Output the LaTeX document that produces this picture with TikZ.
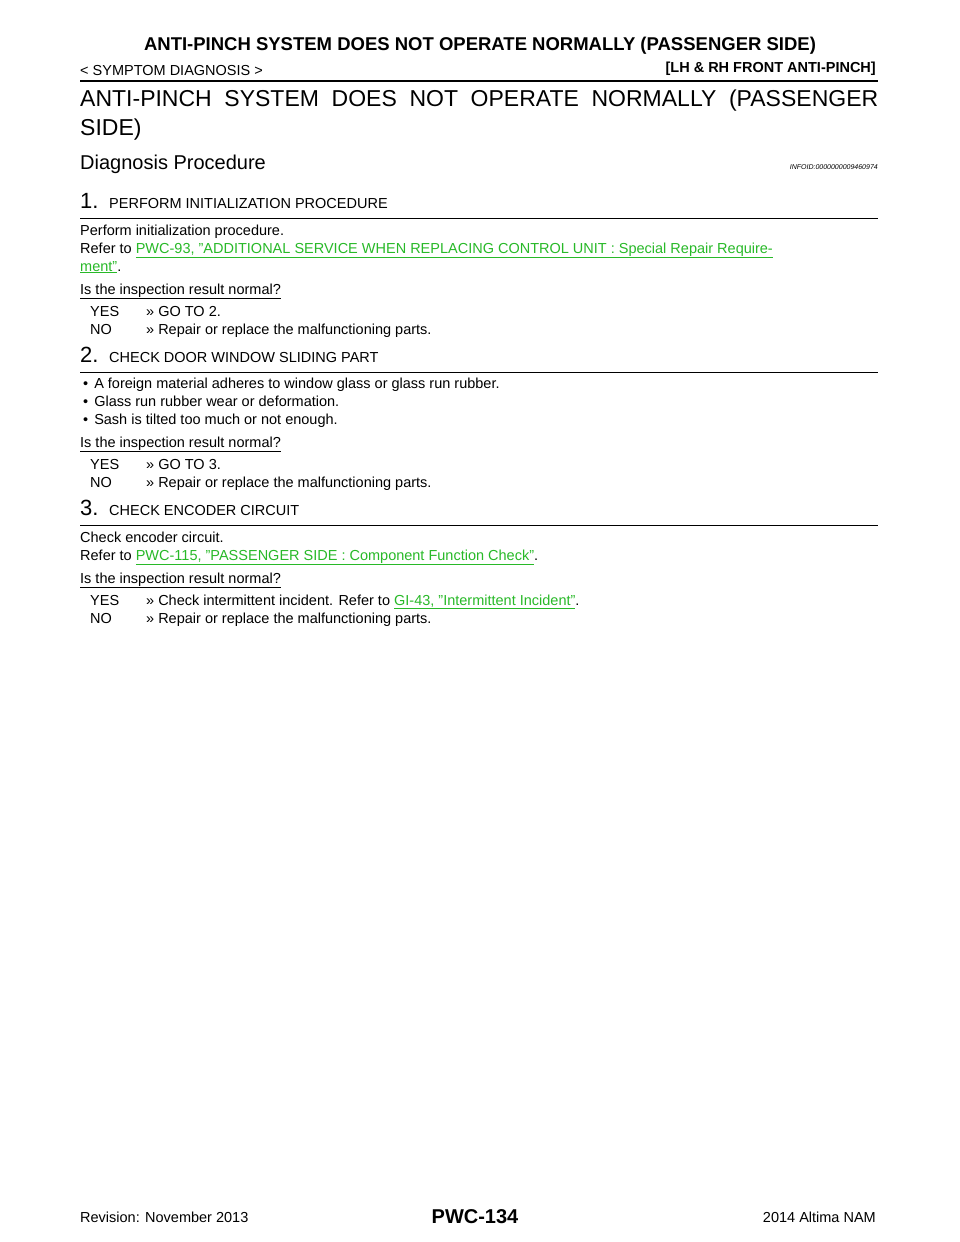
\documentclass[tikz,border=0pt]{standalone}
\usepackage{fontspec}
\setmainfont{Liberation Sans}
\definecolor{lnk}{RGB}{40,185,40}
\newcommand{\lk}[1]{\textcolor{lnk}{\underline{#1}}}
\begin{document}
\begin{tikzpicture}[x=1pt,y=-1pt,
  t/.style={anchor=base west,inner sep=0,font=\fontsize{14.5}{16}\selectfont},
  st/.style={anchor=base west,inner sep=0,font=\fontsize{22}{24}\selectfont}]
\useasboundingbox[fill=white] (0,0) rectangle (960,1242);
\node[anchor=base,inner sep=0,font=\bfseries\fontsize{18.5}{20}\selectfont] (h1) at (480,50) {ANTI-PINCH SYSTEM DOES NOT OPERATE NORMALLY (PASSENGER SIDE)};
\node[t] (h2) at (80,75) {< SYMPTOM DIAGNOSIS >};
\node[anchor=base east,inner sep=0,font=\bfseries\fontsize{14.5}{16}\selectfont] (h3) at (876,72) {[LH \& RH FRONT ANTI-PINCH]};
\draw[line width=2pt] (80,81) -- (878,81);
\node[anchor=base west,inner sep=0,font=\fontsize{23}{25}\selectfont] (ti1) at (80,106) {\makebox[798pt][s]{ANTI-PINCH SYSTEM DOES NOT OPERATE NORMALLY (PASSENGER}};
\node[anchor=base west,inner sep=0,font=\fontsize{23}{25}\selectfont] (ti2) at (80,135) {SIDE)};
\node[anchor=base west,inner sep=0,font=\fontsize{20}{22}\selectfont] (dp) at (80,169) {Diagnosis Procedure};
\node[anchor=base east,inner sep=0,font=\itshape\fontsize{7}{8}\selectfont] (inf) at (878,169) {INFOID:0000000009460974};
% step 1
\node[st] (s1) at (80,208) {1.};
\node[t] (s1t) at (109,208) {PERFORM INITIALIZATION PROCEDURE};
\draw[line width=0.6pt] (80,218) -- (878,218);
\node[t] at (80,235) {Perform initialization procedure.};
\node[t] at (80,253) {Refer to \lk{PWC-93, "ADDITIONAL SERVICE WHEN REPLACING CONTROL UNIT : Special Repair Require-}};
\node[t] at (80,271) {\lk{ment"}.};
\node[t] at (80,294) {\underline{Is the inspection result normal?}};
\node[t] at (90,316) {YES};\node[t] at (146,316) {>> GO TO 2.};
\node[t] at (90,334) {NO};\node[t] at (146,334) {>> Repair or replace the malfunctioning parts.};
% step 2
\node[st] (s2) at (80,362) {2.};
\node[t] (s2t) at (109,362) {CHECK DOOR WINDOW SLIDING PART};
\draw[line width=0.6pt] (80,372) -- (878,372);
\node[t] at (83,388) {•\hspace{6pt}A foreign material adheres to window glass or glass run rubber.};
\node[t] at (83,406) {•\hspace{6pt}Glass run rubber wear or deformation.};
\node[t] at (83,424) {•\hspace{6pt}Sash is tilted too much or not enough.};
\node[t] at (80,447) {\underline{Is the inspection result normal?}};
\node[t] at (90,469) {YES};\node[t] at (146,469) {>> GO TO 3.};
\node[t] at (90,487) {NO};\node[t] at (146,487) {>> Repair or replace the malfunctioning parts.};
% step 3
\node[st] (s3) at (80,515) {3.};
\node[t] (s3t) at (109,515) {CHECK ENCODER CIRCUIT};
\draw[line width=0.6pt] (80,525) -- (878,525);
\node[t] at (80,542) {Check encoder circuit.};
\node[t] at (80,560) {Refer to \lk{PWC-115, "PASSENGER SIDE : Component Function Check"}.};
\node[t] at (80,583) {\underline{Is the inspection result normal?}};
\node[t] at (90,605) {YES};\node[t] at (146,605) {>> Check intermittent incident. Refer to \lk{GI-43, "Intermittent Incident"}.};
\node[t] at (90,623) {NO};\node[t] at (146,623) {>> Repair or replace the malfunctioning parts.};
% footer
\node[t] (f1) at (80,1222) {Revision: November 2013};
\node[anchor=base,inner sep=0,font=\bfseries\fontsize{20}{22}\selectfont] (f2) at (475,1223) {PWC-134};
\node[anchor=base east,inner sep=0,font=\fontsize{14.5}{16}\selectfont] (f3) at (876,1222) {2014 Altima NAM};
\end{tikzpicture}
\end{document}
